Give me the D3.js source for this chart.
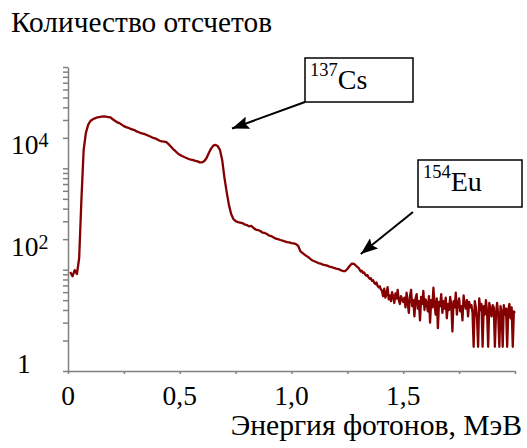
<!DOCTYPE html>
<html>
<head>
<meta charset="utf-8">
<script src="https://cdn.jsdelivr.net/npm/d3@7"></script>
<style>
  body { margin: 0; background: #fff; }
  .axis path, .axis line { stroke: #808080; stroke-width: 1.5; }
</style>
</head>
<body>
<div id="chart"></div>
<script>
// DATA
// counts per channel, 0.01 MeV channels starting at 0.01 MeV (up to 1.30 MeV)
const countsMain = [
  90, 74, 98, 82, 170, 2400, 23000, 50000, 72000, 86000,
  92000, 97000, 101000, 103000, 105000, 106000, 105000, 103000, 101000, 93000,
  87000, 81000, 78000, 73000, 68000, 65000, 63000, 60000, 58000, 56000,
  53000, 51000, 49000, 48000, 46000, 44000, 42000, 40000, 39000, 37000,
  35000, 34000, 33500, 32800, 30000, 27000, 24000, 22000, 20000, 18500,
  17500, 16700, 16000, 15300, 14800, 14500, 14000, 13700, 13100, 13100,
  14000, 16000, 20000, 24500, 28000, 29000, 27500, 23000, 14500, 6500,
  3400, 1900, 1260, 1000, 910, 870, 850, 830, 780, 760,
  715, 730, 665, 620, 605, 580, 540, 530, 505, 470,
  460, 430, 410, 400, 385, 375, 360, 350, 345, 335,
  330, 320, 295, 230, 212, 195, 183, 170, 155, 148,
  142, 135, 132, 126, 123, 120, 115, 112, 108, 105,
  103, 98, 94, 94, 103, 118, 132, 130, 118, 108
];
// counts per channel, 0.005 MeV channels from 1.305 MeV to 2.00 MeV
const countsTail = [
  100, 92, 95, 86, 88, 80, 76, 78, 70, 66, 68, 60, 62, 55, 52, 56, 48, 45, 47, 41,
  38, 30, 42, 28, 33, 45, 26, 31, 24, 36, 29, 22, 34, 27, 40, 25, 21, 30, 26, 23,
  28, 18, 35, 22, 14, 30, 40, 19, 25, 12, 27, 33, 17, 24, 10, 29, 21, 38, 16, 26,
  22, 15, 30, 9, 25, 18, 44, 20, 13, 27, 7, 23, 19, 33, 14, 24, 17, 28, 11, 21,
  16, 29, 20, 6, 24, 18, 35, 13, 22, 27, 15, 19, 10, 31, 21, 17, 25, 12, 23, 18,
  20, 14, 3, 24, 18, 11, 3, 27, 16, 21, 3, 19, 13, 25, 15, 3, 22, 17, 12, 20,
  18, 3, 14, 22, 12, 3, 19, 15, 3, 20, 13, 17, 3, 16, 21, 11, 18, 3, 15, 14
];

const xTicks = [0, 0.25, 0.5, 0.75, 1.0, 1.25, 1.5, 1.75, 2.0];
const xTickLabels = [0, 0.5, 1.0, 1.5];
const yMajor = [1, 1e2, 1e4, 1e6];
const yMinorFactors = [4, 9, 16, 25, 36, 49, 64, 81];
const yTickLabels = [
  {value: 1, base: "1", exp: ""},
  {value: 1e2, base: "10", exp: "2"},
  {value: 1e4, base: "10", exp: "4"}
];
const peaks = [
  {mass: "137", name: "Cs", energy: 0.734, counts: 61000},
  {mass: "154", name: "Eu", energy: 1.31, counts: 204}
];

const yTitle = "Количество отсчетов";
const xTitle = "Энергия фотонов, МэВ";

// build points
let spectrum = [];
countsMain.forEach((c, i) => spectrum.push({e: 0.01 * (i + 1), c: c}));
countsTail.forEach((c, i) => spectrum.push({e: 1.305 + 0.005 * i, c: c}));

// CHART DIMENSIONS
const width = 527, height = 448;
const serif = "'Liberation Serif', Tinos, 'Times New Roman', Times, 'DejaVu Serif', serif";

const svg = d3.select("#chart")
    .append("svg")
    .attr("width", width)
    .attr("height", height)
    .attr("font-family", serif);

const xScale = d3.scaleLinear()
    .domain([0, 2])
    .range([68, 515]);

const yScale = d3.scaleLog()
    .domain([1, 1e6])
    .range([371, 67]);

let yTickValues = yMajor.slice();
yMajor.slice(0, 3).forEach(m => yMinorFactors.forEach(k => yTickValues.push(m * k)));

// Y AXIS
svg.append("g")
    .attr("class", "axis")
    .attr("transform", "translate(68,0)")
    .call(d3.axisLeft(yScale).tickValues(yTickValues).tickSize(5).tickSizeOuter(0).tickFormat(""));

// X AXIS
svg.append("g")
    .attr("class", "axis")
    .attr("transform", "translate(0,371)")
    .call(d3.axisBottom(xScale).tickValues(xTicks).tickSize(3).tickSizeOuter(0).tickFormat(""));

const ru = d3.formatLocale({decimal: ",", thousands: " ", grouping: [3], currency: ["", ""]});
const fmt = ru.format(".1f");

svg.selectAll(".xlab")
    .data(xTickLabels)
    .enter().append("text")
    .attr("class", "xlab")
    .attr("x", d => xScale(d))
    .attr("y", 405)
    .attr("text-anchor", "middle")
    .attr("font-size", 27.5)
    .text(d => d === 0 ? "0" : fmt(d));

let ylab = svg.selectAll(".ylab")
    .data(yTickLabels)
    .enter().append("text")
    .attr("class", "ylab")
    .attr("x", d => d.exp ? 11 : 17)
    .attr("y", d => d.exp ? yScale(d.value) - 14 : yScale(d.value) + 2)
    .attr("font-size", 27.5);
ylab.append("tspan").text(d => d.base);
ylab.append("tspan")
    .attr("dy", -7)
    .attr("font-size", 20)
    .text(d => d.exp);

// TITLES
svg.append("text")
    .attr("x", 11)
    .attr("y", 32)
    .attr("font-size", 29.3)
    .text(yTitle);

svg.append("text")
    .attr("x", 522)
    .attr("y", 435)
    .attr("text-anchor", "end")
    .attr("font-size", 29.6)
    .text(xTitle);

// SPECTRUM
const line = d3.line()
    .x(d => xScale(d.e))
    .y(d => yScale(d.c));

svg.append("path")
    .datum(spectrum)
    .attr("d", line)
    .attr("fill", "none")
    .attr("stroke", "#850000")
    .attr("stroke-width", 2.3)
    .attr("stroke-linejoin", "round");

// ANNOTATIONS
svg.append("defs").append("marker")
    .attr("id", "head")
    .attr("markerUnits", "userSpaceOnUse")
    .attr("markerWidth", 17)
    .attr("markerHeight", 13)
    .attr("refX", 17)
    .attr("refY", 6.5)
    .attr("orient", "auto")
    .append("path")
    .attr("d", "M0,0 L17,6.5 L0,13 L3,6.5 z")
    .attr("fill", "#000");

const boxes = [
  {x: 305, y: 58, w: 108, h: 44, fromX: 305, fromY: 102},
  {x: 418, y: 160, w: 104, h: 47, fromX: 413, fromY: 212}
];

peaks.forEach((p, i) => {
    let b = boxes[i];
    svg.append("line")
        .attr("x1", b.fromX)
        .attr("y1", b.fromY)
        .attr("x2", xScale(p.energy))
        .attr("y2", yScale(p.counts))
        .attr("stroke", "#000")
        .attr("stroke-width", 2)
        .attr("marker-end", "url(#head)");
    svg.append("rect")
        .attr("x", b.x)
        .attr("y", b.y)
        .attr("width", b.w)
        .attr("height", b.h)
        .attr("fill", "#fff")
        .attr("stroke", "#000")
        .attr("stroke-width", 1.5);
    let t = svg.append("text")
        .attr("x", b.x + 5)
        .attr("y", b.y + 31);
    t.append("tspan")
        .attr("dy", -13)
        .attr("font-size", 18.5)
        .text(p.mass);
    t.append("tspan")
        .attr("dy", 13)
        .attr("font-size", 28)
        .text(p.name);
});
</script>
</body>
</html>
